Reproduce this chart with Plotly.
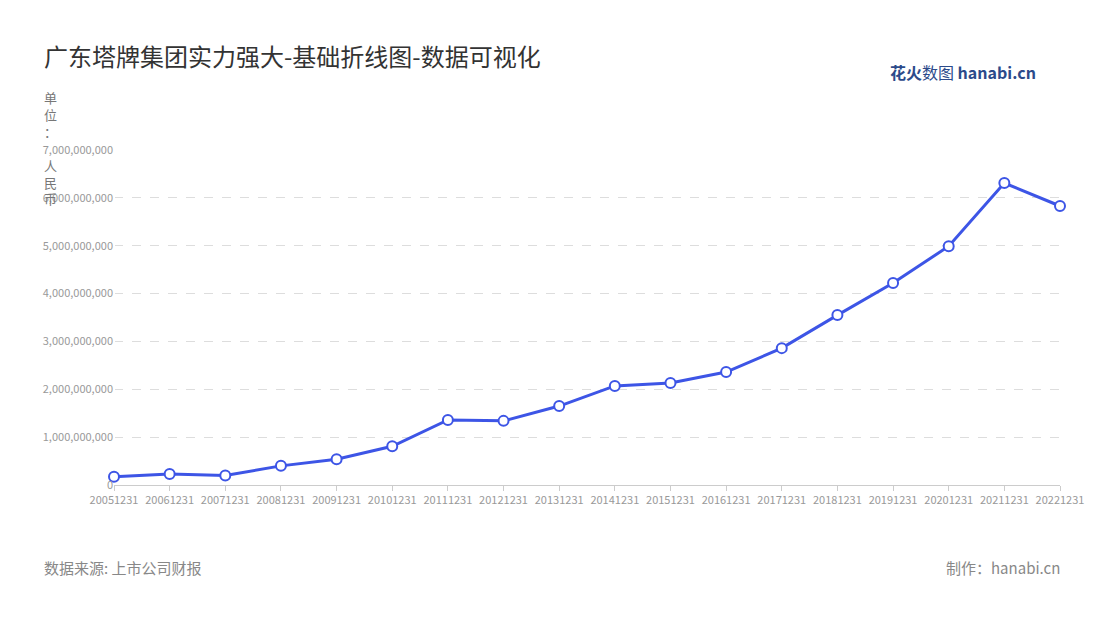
import plotly.graph_objects as go

years = ["20051231","20061231","20071231","20081231","20091231","20101231","20111231","20121231","20131231","20141231","20151231","20161231","20171231","20181231","20191231","20201231","20211231","20221231"]
values = [0.17e9,0.23e9,0.20e9,0.40e9,0.54e9,0.81e9,1.36e9,1.34e9,1.65e9,2.07e9,2.13e9,2.36e9,2.86e9,3.55e9,4.22e9,4.99e9,6.31e9,5.83e9]
yticks = [0,1e9,2e9,3e9,4e9,5e9,6e9,7e9]
ylabels = ["0","1,000,000,000","2,000,000,000","3,000,000,000","4,000,000,000","5,000,000,000","6,000,000,000","7,000,000,000"]

OFF = 8
L, R, T, B = 114 - OFF, 40 + OFF, 150 - OFF, 135 + OFF
pw, ph = 1100 - L - R, 620 - T - B

def px(x):
    return (x - OFF - L) / pw

def py(y):
    return (620 - B - (y - OFF)) / ph

idx = list(range(len(years)))
fig = go.Figure(go.Scatter(
    x=idx, y=values, mode="lines+markers",
    line=dict(color="#3d55e6", width=3),
    marker=dict(size=10, color="white", line=dict(color="#3d55e6", width=2)),
    hoverinfo="y", cliponaxis=False))
font = "Noto Sans CJK SC"
fig.update_layout(
    width=1100, height=620, paper_bgcolor="white", plot_bgcolor="white",
    margin=dict(l=L, r=R, t=T, b=B),
    font=dict(family=font, color="#999"),
    showlegend=False,
    xaxis=dict(tickvals=idx, ticktext=years, range=[0, len(years)-1], showgrid=False,
               showline=True, linecolor="#ccc", ticks="outside", ticklen=5, tickcolor="#ccc",
               tickfont=dict(size=11, color="#999"), tickangle=0, fixedrange=True),
    yaxis=dict(tickvals=yticks, ticktext=ylabels, range=[0, 7e9], showgrid=True,
               gridcolor="#ddd", griddash="dash", zeroline=False,
               tickfont=dict(size=11, color="#999"), fixedrange=True),
    annotations=[
        dict(text="广东塔牌集团实力强大-基础折线图-数据可视化", x=px(42), y=py(55),
             xanchor="left", yanchor="middle", font=dict(size=24, color="#333", family=font)),
        dict(text="单<br>位<br>：<br><br>人<br>民<br>币", x=px(50), y=py(86),
             xanchor="center", yanchor="top", font=dict(size=13, color="#777", family=font)),
        dict(text="数据来源: 上市公司财报", x=px(42), y=py(567),
             xanchor="left", yanchor="middle", font=dict(size=15, color="#888", family=font)),
        dict(text="制作：hanabi.cn", x=px(1062), y=py(567),
             xanchor="right", yanchor="middle", font=dict(size=15, color="#888", family=font)),
        dict(text="<b>花火</b>数图 <b>hanabi.cn</b>", x=px(1038), y=py(72),
             xanchor="right", yanchor="middle", font=dict(size=16, color="#2c4a8a", family=font)),
    ],
)
for a in fig.layout.annotations:
    a.xref = "paper"; a.yref = "paper"; a.showarrow = False
fig.write_html("out.html")
